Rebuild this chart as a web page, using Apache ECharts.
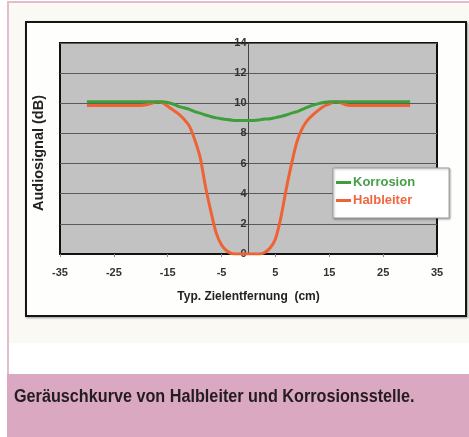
<!DOCTYPE html>
<html>
<head>
<meta charset="utf-8">
<script src="https://cdn.jsdelivr.net/npm/echarts@6/dist/echarts.min.js"></script>
<style>
html,body{margin:0;padding:0;width:469px;height:437px;overflow:hidden;background:#ffffff;}
.abs{position:absolute;box-sizing:border-box;}
#top{left:7px;top:1px;width:462px;height:342px;background:#faf9f4;border-left:2px solid #e4bcd0;border-top:2px solid #e4bcd0;}
#mid{left:7px;top:343px;width:462px;height:31px;background:#ffffff;border-left:2px solid #e4bcd0;}
#band{left:7px;top:374px;width:462px;height:63px;background:#dba8c1;}
#frame{left:25px;top:21px;width:442px;height:296px;background:#fefefc;border:2px solid #151515;box-shadow:1px 1px 2px #999;}
#chart{position:absolute;left:0;top:0;width:469px;height:437px;}
</style>
</head>
<body>
<div class="abs" id="top"></div>
<div class="abs" id="mid"></div>
<div class="abs" id="band"></div>
<div class="abs" id="frame"></div>
<div id="chart"></div>
<script>
// distance (cm)
const distances = [-30,-29,-28,-27,-26,-25,-24,-23,-22,-21,-20,-19,-18,-17,-16,-15,-14,-13,-12,-11,-10,-9,-8,-7,-6,-5,-4,-3,-2,-1,0,1,2,3,4,5,6,7,8,9,10,11,12,13,14,15,16,17,18,19,20,21,22,23,24,25,26,27,28,29,30];
const korrosion = [10.1,10.1,10.1,10.1,10.1,10.1,10.1,10.1,10.1,10.1,10.1,10.1,10.1,10.1,10.1,10.05,9.95,9.8,9.7,9.6,9.45,9.35,9.22,9.12,9.03,8.97,8.92,8.88,8.86,8.85,8.85,8.86,8.9,8.95,8.98,9.05,9.12,9.22,9.35,9.45,9.6,9.75,9.88,9.98,10.05,10.1,10.1,10.1,10.1,10.1,10.1,10.1,10.1,10.1,10.1,10.1,10.1,10.1,10.1,10.1,10.1];
const halbleiter = [9.85,9.85,9.85,9.85,9.85,9.85,9.85,9.85,9.85,9.85,9.85,9.9,10.0,10.1,10.05,9.8,9.55,9.3,8.95,8.5,7.6,6.45,4.5,2.85,1.4,0.6,0.2,0.02,0,0,0,0,0,0.1,0.4,1.0,2.4,4.3,6.0,7.45,8.35,8.9,9.25,9.55,9.8,9.95,10.1,10.05,9.9,9.85,9.85,9.85,9.85,9.85,9.85,9.85,9.85,9.85,9.85,9.85,9.85];
const seriesNames = ['Korrosion','Halbleiter'];
const seriesColors = ['#3f9e3c','#ef6233'];
const xTitle = 'Typ. Zielentfernung  (cm)';
const yTitle = 'Audiosignal (dB)';
const caption = 'Geräuschkurve von Halbleiter und Korrosionsstelle.';

const chart = echarts.init(document.getElementById('chart'), null, {renderer:'canvas'});
const pair = (ys) => distances.map((x,i)=>[x, ys[i]]);
const font = '"Liberation Sans", Arial, sans-serif';
const gridLeft = 60, gridRight = 32;
const plotW = 469 - gridLeft - gridRight;
chart.setOption({
  animation:false,
  backgroundColor:'transparent',
  grid:{left:gridLeft, right:gridRight, top:43, bottom:183, show:true, backgroundColor:'#c2c2c2', borderColor:'#111', borderWidth:2},
  legend:{
    orient:'vertical', left:333, top:168,
    backgroundColor:'#ffffff', borderColor:'#9a9a9a', borderWidth:1,
    padding:[8,34,11,3], itemGap:5, itemWidth:15, itemHeight:3, icon:'rect',
    data:[
      {name:seriesNames[0], textStyle:{color:'#45a048'}},
      {name:seriesNames[1], textStyle:{color:'#f06640'}}
    ],
    textStyle:{fontFamily:font, fontWeight:'bold', fontSize:13, padding:[0,0,0,-3]},
    shadowColor:'rgba(0,0,0,0.3)', shadowBlur:2, shadowOffsetX:1, shadowOffsetY:1
  },
  xAxis:{
    type:'value', min:-35, max:35, interval:10,
    name:xTitle, nameLocation:'middle', nameGap:37,
    nameTextStyle:{fontFamily:font, fontWeight:'bold', fontSize:12, color:'#222'},
    axisLine:{show:true, lineStyle:{color:'#111', width:2}},
    axisTick:{show:true, length:3, inside:false, lineStyle:{color:'#888'}},
    axisLabel:{fontFamily:font, fontWeight:'bold', fontSize:11, color:'#333', margin:13},
    splitLine:{show:false}
  },
  yAxis:{
    type:'value', min:0, max:14, interval:2, position:'left', offset:-(plotW/2),
    axisLine:{show:true, onZero:false, lineStyle:{color:'#444', width:1}},
    axisTick:{show:true, length:3, lineStyle:{color:'#444'}},
    axisLabel:{fontFamily:font, fontWeight:'bold', fontSize:11, color:'#333', margin:2},
    splitLine:{show:true, lineStyle:{color:'#5a5a5a', width:1}}
  },
  graphic:[
    {
      type:'text', left:31, top:95, rotation:Math.PI/2,
      style:{text:yTitle, font:'bold 14.5px "Liberation Sans", Arial, sans-serif', fill:'#222'}
    },
    {
      type:'text', x:14, y:397, scaleX:0.9,
      style:{text:caption, font:'bold 18px "Liberation Sans", Arial, sans-serif', fill:'#231d20', verticalAlign:'middle', align:'left'}
    }
  ],
  series:[
    {name:seriesNames[0], type:'line', data:pair(korrosion), smooth:0.3, showSymbol:false, lineStyle:{color:seriesColors[0], width:3}, itemStyle:{color:seriesColors[0]}, z:3},
    {name:seriesNames[1], type:'line', data:pair(halbleiter), smooth:0.3, showSymbol:false, lineStyle:{color:seriesColors[1], width:3}, itemStyle:{color:seriesColors[1]}, z:2}
  ]
});
</script>
</body>
</html>
